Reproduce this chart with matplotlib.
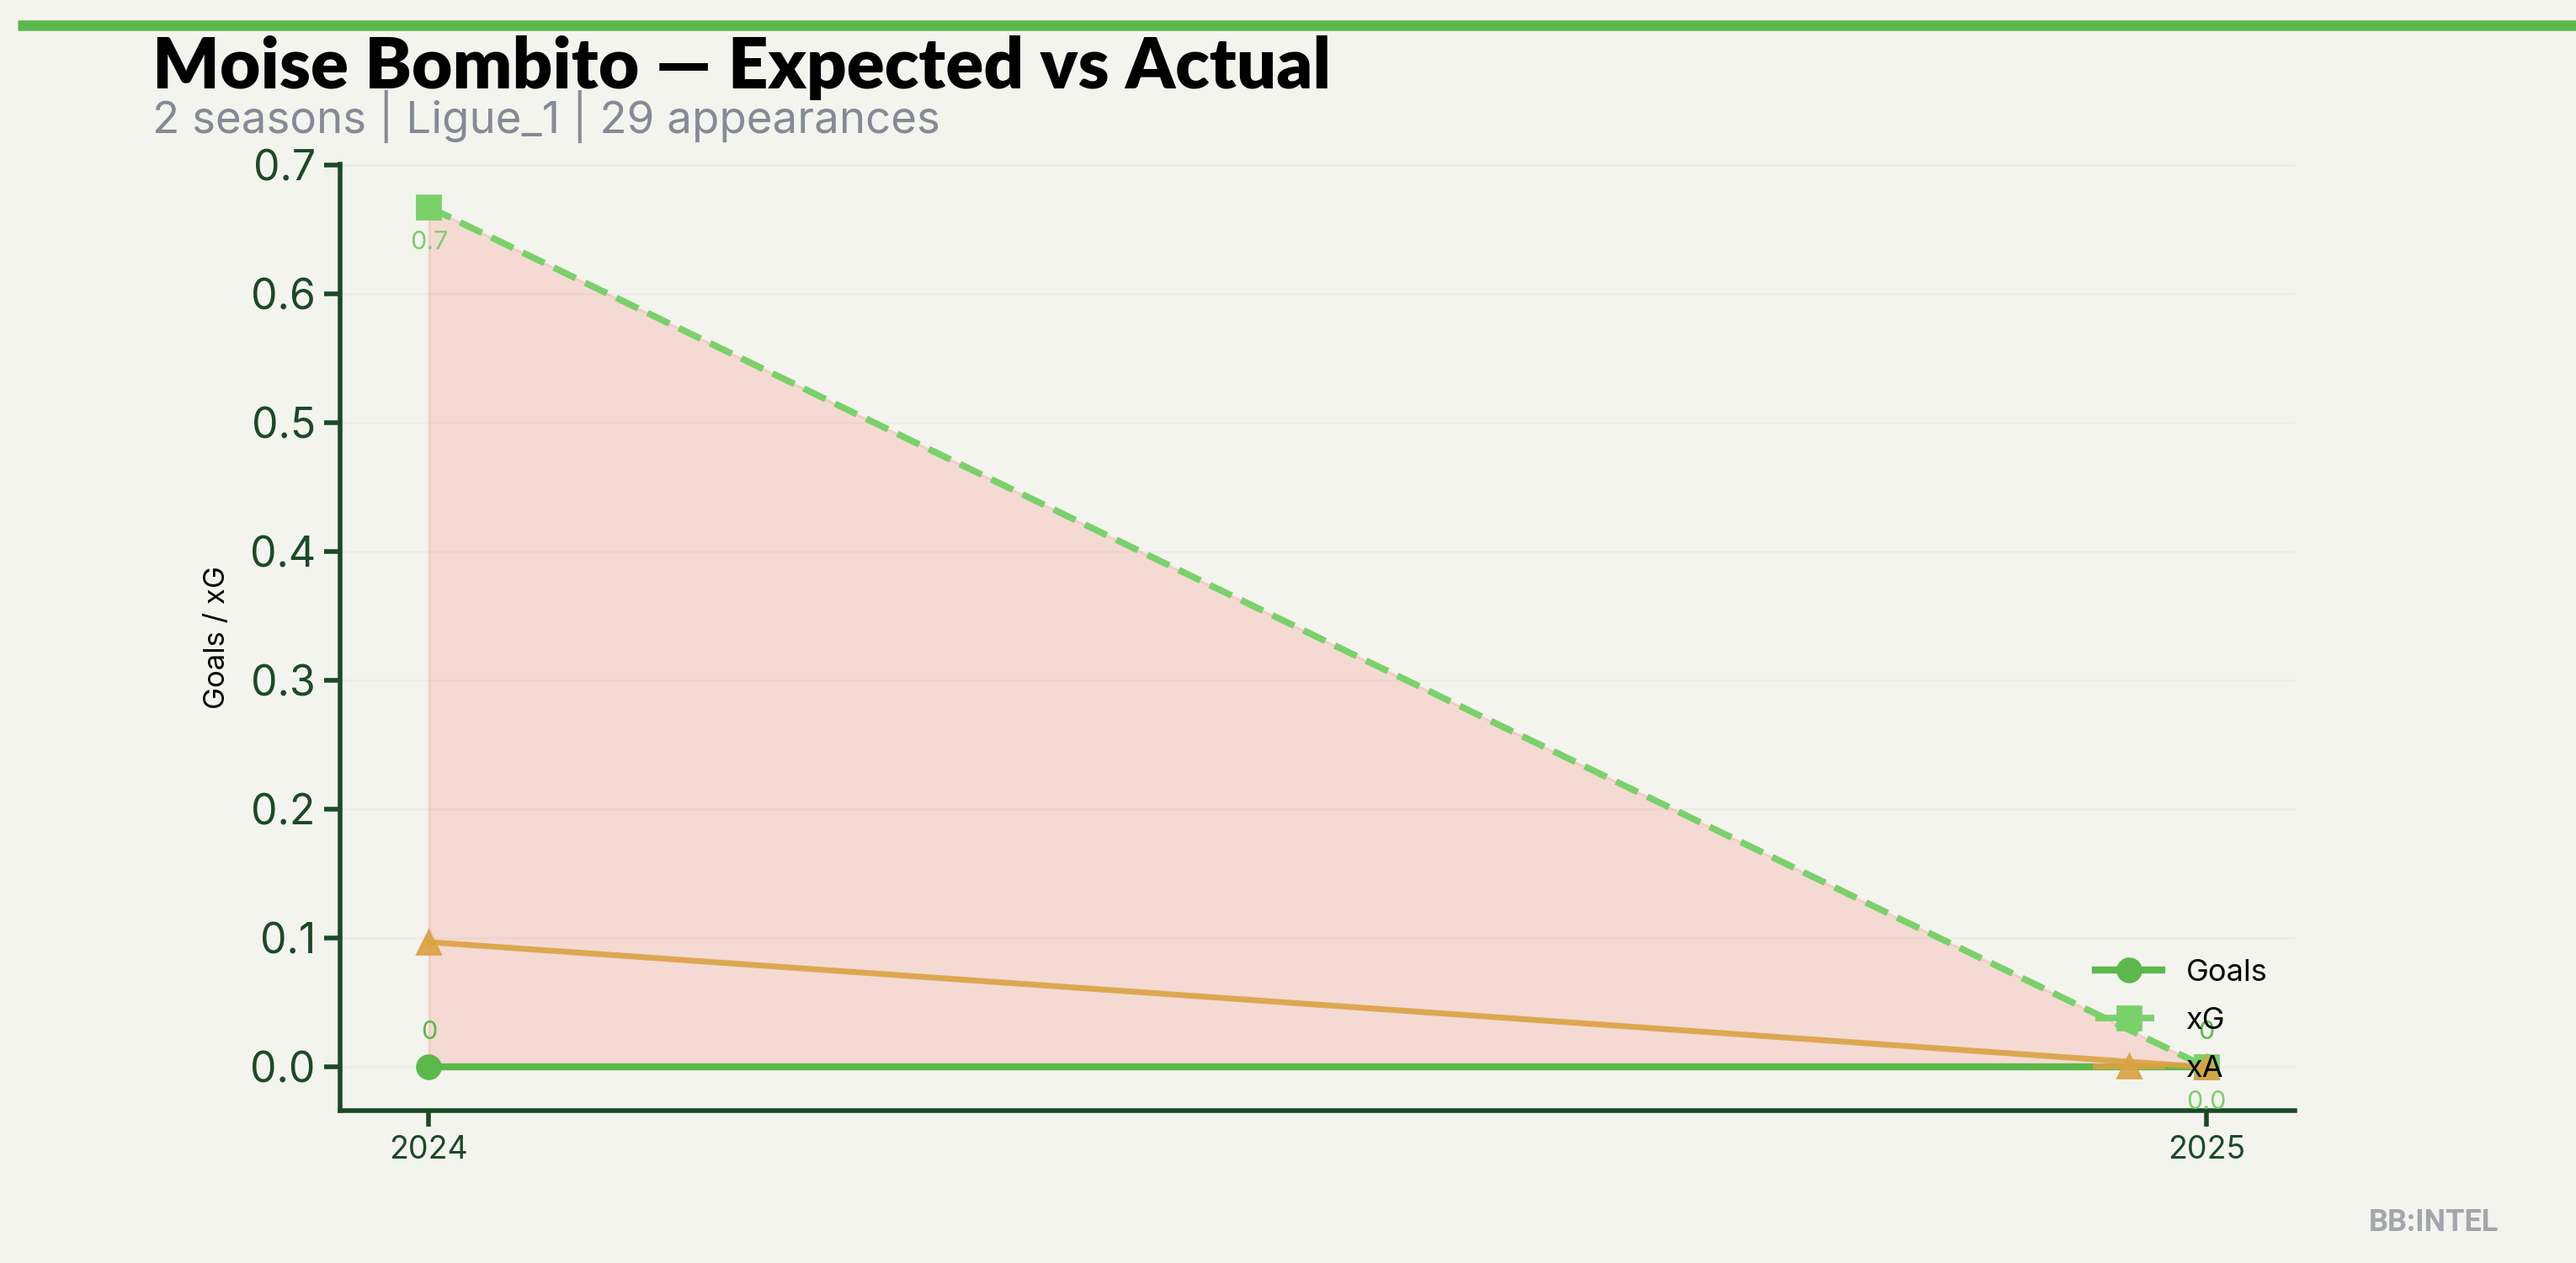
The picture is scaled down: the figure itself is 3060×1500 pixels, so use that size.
import matplotlib
matplotlib.use("Agg")
import matplotlib.pyplot as plt

# data
seasons = [2024, 2025]
goals = [0, 0]
xg = [0.667, 0.0]
xa = [0.097, 0.0]
goal_labels = ["0", "0"]
xg_labels = ["0.7", "0.0"]

BG = "#f4f4ef"
GREEN = "#5ab94a"
LIGHT_GREEN = "#7ad16a"
ORANGE = "#dba243"
DARK = "#1b4a26"

plt.rcParams['font.family'] = ['Inter', 'DejaVu Sans']

fig = plt.figure(figsize=(15.3, 7.5), dpi=200, facecolor=BG)
ax = fig.add_axes([0.132, 0.121, 0.759, 0.749], facecolor=BG)

# top accent bar
fig.add_artist(plt.Line2D([0.007, 1.0], [0.98, 0.98], color=GREEN, lw=4.5,
                          transform=fig.transFigure, solid_capstyle='butt'))

ax.fill_between(seasons, goals, xg, color="#fc5a52", alpha=0.17)
ax.plot(seasons, goals, color=GREEN, lw=3, marker='o', markersize=10, label="Goals")
ax.plot(seasons, xg, color=LIGHT_GREEN, lw=2.8, ls='--',
        marker='s', markersize=10, label="xG")
ax.plot(seasons, xa, color=ORANGE, lw=2.5, marker='^', markersize=10,
        alpha=0.9, label="xA")

for x, y, t in zip(seasons, goals, goal_labels):
    ax.annotate(t, (x, y), xytext=(0, 10), textcoords='offset points',
                ha='center', va='bottom', fontsize=11, color=GREEN)
for x, y, t in zip(seasons, xg, xg_labels):
    ax.annotate(t, (x, y), xytext=(0, -10), textcoords='offset points',
                ha='center', va='top', fontsize=11, color=LIGHT_GREEN)

ax.set_xticks(seasons)
ax.set_xticklabels([str(s) for s in seasons], fontsize=13.5, color=DARK)
ax.tick_params(axis='y', labelsize=18, colors=DARK, width=2, length=7)
ax.tick_params(axis='x', width=2, length=7, colors=DARK)
ax.set_ylabel("Goals / xG", fontsize=12.5, color='black', labelpad=8)

for s in ['top', 'right']:
    ax.spines[s].set_visible(False)
for s in ['left', 'bottom']:
    ax.spines[s].set_color(DARK)
    ax.spines[s].set_linewidth(2)

ax.grid(axis='y', color='#ededE7', lw=1)
ax.set_axisbelow(True)

ax.legend(loc='lower right', frameon=False, fontsize=13, handlelength=2.2,
          labelspacing=0.67)

fig.text(0.059, 0.93, "Moise Bombito \u2014 Expected vs Actual", fontsize=30,
         fontweight='heavy', family=['Lato', 'DejaVu Sans'], color='black',
         va='baseline')
fig.text(0.059, 0.895, "2 seasons | Ligue_1 | 29 appearances", fontsize=19,
         color='#858a94', va='baseline')
fig.text(0.97, 0.02, "BB:INTEL", fontsize=13, fontweight='bold',
         family=['Roboto', 'DejaVu Sans'], color='#a3a6ab', ha='right', va='bottom')

fig.savefig("out.png", dpi=200, facecolor=BG)
